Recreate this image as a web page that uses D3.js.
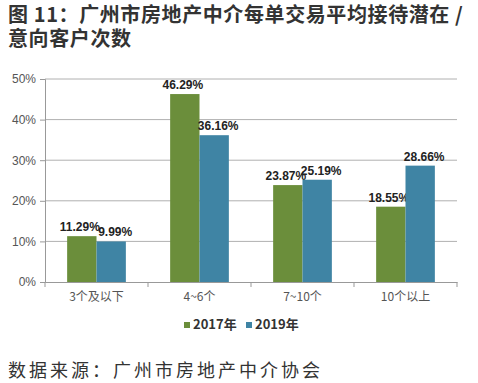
<!DOCTYPE html>
<html><head><meta charset="utf-8">
<script src="https://cdn.jsdelivr.net/npm/d3@7"></script>
<style>body{margin:0;background:#fff}svg{display:block}</style>
</head><body>
<script>
const categories = ["3个及以下", "4~6个", "7~10个", "10个以上"];
const seriesNames = ["2017年", "2019年"];
const values2017 = [11.29, 46.29, 23.87, 18.55];
const values2019 = [9.99, 36.16, 25.19, 28.66];
const yTicks = [0, 10, 20, 30, 40, 50];
const colors = ["#6b8e3b", "#3f84a4"];

(function () {
const W = 478, H = 383;
const svg = d3.select("body").append("svg").attr("width", W).attr("height", H);
const cjk = "'Noto Sans CJK SC', 'Noto Sans', sans-serif";

const title = svg.append("text").attr("font-family", cjk).attr("font-weight", "bold")
  .attr("font-size", 20).attr("letter-spacing", 0.6).attr("fill", "#333");
title.append("tspan").attr("x", 8).attr("y", 22).text("图 11：广州市房地产中介每单交易平均接待潜在 /");
title.append("tspan").attr("x", 8).attr("y", 46).text("意向客户次数");

const pl = 45, pr = 457, pt = 79, pb = 282;
const x = d3.scaleBand().domain(categories).range([pl, pr]).paddingInner(0.43).paddingOuter(0.215);
const xs = d3.scaleBand().domain(seriesNames).range([0, x.bandwidth()]);
const y = d3.scaleLinear().domain([0, 50]).range([pb, pt]);

svg.append("g").selectAll("line").data(yTicks.filter(d => d > 0)).join("line")
  .attr("x1", pl).attr("x2", pr).attr("y1", d => y(d)).attr("y2", d => y(d))
  .attr("stroke", "#b0b0b0").attr("stroke-width", 1);

const yAxis = svg.append("g").attr("transform", `translate(${pl},0)`)
  .call(d3.axisLeft(y).tickValues(yTicks).tickFormat(d => d + "%").tickSize(5).tickPadding(4));
yAxis.select(".domain").attr("stroke", "#999");
yAxis.selectAll(".tick line").attr("stroke", "#999");
yAxis.selectAll("text").attr("font-family", "'Liberation Sans', Arial, sans-serif").attr("font-size", 12).attr("fill", "#555");

const data = categories.map((c, i) => ({c, v: [values2017[i], values2019[i]]}));
const g = svg.append("g");
data.forEach(d => {
  d.v.forEach((v, j) => {
    const bx = x(d.c) + xs(seriesNames[j]);
    g.append("rect").attr("x", bx).attr("y", y(v)).attr("width", xs.bandwidth()).attr("height", y(0) - y(v))
      .attr("fill", colors[j]);
    g.append("text").attr("x", bx + xs.bandwidth() / 2 + (j === 0 ? -2 : 4)).attr("y", y(v) - 5)
      .attr("text-anchor", "middle").attr("font-family", "'Liberation Sans', Arial, sans-serif")
      .attr("font-weight", "bold").attr("font-size", 12).attr("fill", "#222").text(v.toFixed(2) + "%");
  });
});

const xAxis = svg.append("g").attr("transform", `translate(0,${pb})`)
  .call(d3.axisBottom(x).tickSize(0).tickPadding(10));
xAxis.select(".domain").attr("stroke", "#999");
xAxis.selectAll("text").attr("font-family", cjk).attr("font-size", 12).attr("fill", "#555");
const bounds = [pl, ...categories.map(c => x(c) + x.bandwidth() + x.step() * x.paddingInner() / 2)];
bounds[bounds.length - 1] = pr;
svg.append("g").selectAll("line").data(bounds).join("line")
  .attr("x1", d => d).attr("x2", d => d).attr("y1", pb).attr("y2", pb + 5).attr("stroke", "#999");

const leg = svg.append("g").attr("transform", "translate(184,329)");
const lx = [0, 62];
seriesNames.forEach((s, j) => {
  leg.append("rect").attr("x", lx[j]).attr("y", -7).attr("width", 6).attr("height", 6).attr("fill", colors[j]);
  leg.append("text").attr("x", lx[j] + 9).attr("y", 0).attr("font-family", cjk).attr("font-weight", "bold")
    .attr("font-size", 13).attr("fill", "#333").text(s);
});

svg.append("text").attr("x", 8).attr("y", 377).attr("font-family", cjk).attr("font-size", 18)
  .attr("letter-spacing", 3).attr("fill", "#333").text("数据来源：广州市房地产中介协会");
})();
</script>
</body></html>
